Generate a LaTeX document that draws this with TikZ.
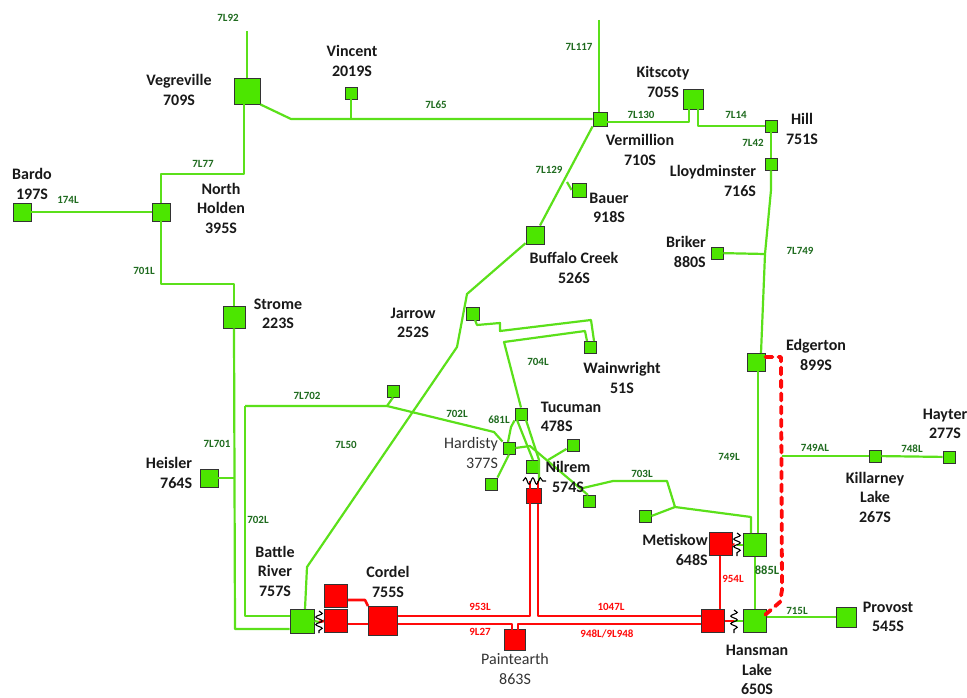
\documentclass[tikz,border=0pt]{standalone}
\usepackage{fontspec}
\setmainfont{Carlito}
\usetikzlibrary{arrows.meta,calc,positioning,decorations.pathmorphing}
\definecolor{linegreen}{HTML}{5BE01A}
\definecolor{boxgreen}{HTML}{4CE600}
\definecolor{labelgreen}{HTML}{1F6B1F}
\definecolor{linered}{HTML}{FF0A0A}
\begin{document}
\begin{tikzpicture}[
  x=1pt, y=-1pt,
  busg/.style={draw=black!80, fill=boxgreen, line width=0.9pt, minimum size=#1, inner sep=0pt},
  busr/.style={draw=black!80, fill=red, line width=0.9pt, minimum size=#1, inner sep=0pt},
  stn/.style={font=\fontsize{16}{19.5}\selectfont\bfseries, text=black!90, align=center, inner sep=0pt},
  stnr/.style={stn, align=right},
  plain/.style={font=\fontsize{16}{19.5}\selectfont, text=black!80, align=center, inner sep=0pt},
  gid/.style={font=\fontsize{11}{11}\selectfont\bfseries, text=labelgreen, inner sep=0pt},
  rid/.style={font=\fontsize{11}{11}\selectfont\bfseries, text=linered, inner sep=0pt},
  gln/.style={draw=linegreen, line width=2.2pt, line join=round},
  rln/.style={draw=linered, line width=2.6pt, line join=round},
  wig/.style={draw=black, line width=1.1pt, decorate, decoration={snake, amplitude=3.2pt, segment length=7.5pt}},
]
\useasboundingbox (0,0) rectangle (967,698);

%% === BUSES ===
\node[busg=26pt] (veg)  at (247,91)  {};
\node[busg=12pt] (vin)  at (351,93)  {};
\node[busg=18pt] (bar)  at (22,212)  {};
\node[busg=18pt] (nho)  at (161,212) {};
\node[busg=22pt] (str)  at (234,317) {};
\node[busg=18pt] (hei)  at (209,478) {};
\node[busg=24pt] (bat)  at (302,621) {};
\node[busg=20pt] (kit)  at (693,99)  {};
\node[busg=14pt] (ver)  at (600,119) {};
\node[busg=12pt] (hil)  at (771,126) {};
\node[busg=12pt] (llo)  at (771,164) {};
\node[busg=14pt] (bau)  at (579,190) {};
\node[busg=18pt] (buf)  at (535,235) {};
\node[busg=12pt] (bri)  at (717,253) {};
\node[busg=13pt] (jar)  at (473,314) {};
\node[busg=12pt] (wai)  at (590,347) {};
\node[busg=18pt] (edg)  at (756,362) {};
\node[busg=12pt] (tap)  at (393,391) {};
\node[busg=12pt] (tuc)  at (521,414) {};
\node[busg=12pt] (har)  at (509,448) {};
\node[busg=12pt] (hsw)  at (491,484) {};
\node[busg=12pt] (hne)  at (573,445) {};
\node[busg=13pt] (nil)  at (533,467) {};
\node[busg=12pt] (nse)  at (589,501) {};
\node[busg=12pt] (met)  at (645,516) {};
\node[busg=12pt] (kil)  at (875,456) {};
\node[busg=12pt] (hay)  at (949,457) {};
\node[busg=23pt] (mtg)  at (755,545) {};
\node[busg=23pt] (han)  at (755,621) {};
\node[busg=20pt] (pro)  at (846,617) {};

\node[busr=23pt] (crt)  at (336,596) {};
\node[busr=23pt] (crb)  at (336,621) {};
\node[busr=29pt] (cor)  at (383,621) {};
\node[busr=21pt] (pai)  at (515,640) {};
\node[busr=15pt] (nir)  at (534,496) {};
\node[busr=23pt] (mtr)  at (721,544) {};
\node[busr=23pt] (hrd)  at (713,621) {};

% free ends and transformer ends
\coordinate (top92)  at (247,31);
\coordinate (top117) at (599,20);
\coordinate (eab)    at (782,456);
\coordinate (wb1)    at (319,611);
\coordinate (wb2)    at (319,633);
\coordinate (wm1)    at (737,533);
\coordinate (wm2)    at (737,556);
\coordinate (wh1)    at (734,610);
\coordinate (wh2)    at (734,633);
\coordinate (wn1)    at (523,481);
\coordinate (wn2)    at (546,481);

%% === 138 kV (green) ===
\draw[gln] (top92) -- (top92 |- veg.north);
\draw[gln] (veg.south east) -- (291,119) -- (ver.west);
\draw[gln] (vin) -- (351,119);
\draw[gln] (bar) -- (nho);
\draw[gln] ([xshift=-3pt]veg.south) |- (161,174) -- (nho.north);
\draw[gln] (nho.south) |- (234,284) -- (str.north);
\draw[gln] (str.south) -- (235,629) -- ([yshift=-8pt]bat.west);
\draw[gln] (hei) -- (235,478);
\draw[gln] (245,406) -- (245,616) -- ([yshift=5pt]bat.west);
\draw[gln] (245,406) -- (387,406) -- (494,432) -- (har.north west);
\draw[gln] (tap.south) -- (387,406);
\draw[gln] (buf) -- (467,294) -- (457,347) -- (307,567) -- (305,609);
\draw[gln] (ver.south west) -- (buf);
\draw[gln] (bau.west) -- (567,182);
\draw[gln] (top117) -- (top117 |- ver.north);
\draw[gln] ([yshift=-3pt]ver.east) -- (689,122) -- (689,109);
\draw[gln] (698,109) -- (698,126) -- (hil.west);
\draw[gln] (hil) -- (llo);
\draw[gln] (llo.south) -- (771,190) -- (765,254) -- (761,353);
\draw[gln] (bri) -- (765,254);
\draw[gln] (758,371) -- (758,533);
\draw[gln] (475,320) -- (477,325) -- (500,323) -- (500,331) -- (591,320) -- (594,341);
\draw[gln] (587,341) -- (585,331) -- (504,342) -- (tuc.north);
\draw[gln] (tuc.south west) -- (511,427) -- (508,442);
\draw[gln] (517,420) -- (533,460);
\draw[gln] (526,420) -- (539,460) -- (539,481);
\draw[gln] (har.east) -- (530,446) -- (588,495);
\draw[gln] (hne) -- (548,460);
\draw[gln] (har.south) -- (hsw.north east);
\draw[gln] (583,488) -- (613,481) -- (667,481) -- (675,507) -- (met.east);
\draw[gln] (675,507) -- (751,517) -- (751,533);
\draw[gln] (mtg.south) -- (han.north);
\draw[gln] (han.east |- pro) -- (pro);
\draw[gln] (eab) -- (kil);
\draw[gln] (kil) -- (hay);
\draw[gln] (bat.east) -- (319,622);
\draw[gln] (mtg.west) -- (737,545);
\draw[gln] (han.west) -- (734,621);

%% === 240 kV (red) ===
\draw[rln] (crb.east |- 0,624) -- (cor.west |- 0,624);
\draw[rln] (crt.east |- 0,600) -- (365,600) -- (cor.north west);
\draw[rln] (cor.east |- 0,616) -- (530,616) -- (530,503);
\draw[rln] (nir.south -| 538,0) -- (538,616) -- (hrd.west |- 0,616);
\draw[rln] (cor.east |- 0,624) -- (512,624) -- (512,630);
\draw[rln] (518,630) -- (518,624) -- (hrd.west |- 0,624);
\draw[rln] (mtr.south -| 720,0) -- (hrd.north -| 720,0);
\draw[rln] (319,622) -- (crb.west);
\draw[rln] (734,545) -- (mtr.east);
\draw[rln] (734,621) -- (hrd.east);
\draw[rln] (530,481) -- (530,488.5);
\draw[rln] (538,481) -- (538,488.5);
\draw[rln, line width=3.8pt, dash pattern=on 7pt off 6pt, line cap=round]
  ([yshift=5pt]edg.east) -- (781,357) -- (782,590) -- (780,602) -- (765,615);

% transformers
\draw[wig] (wb1) -- (wb2);
\draw[wig] (wm1) -- (wm2);
\draw[wig] (wh1) -- (wh2);
\draw[wig] (wn1) -- (wn2);

%% === STATION NAMES ===
\node[stn] (nvin) at (352,61)  {Vincent\\2019S};
\node[stn] (nveg) at (179,90)  {Vegreville\\709S};
\node[stn] (nkit) at (663,82)  {Kitscoty\\705S};
\node[stn] (nhil) at (802,129) {Hill\\751S};
\node[stn] (nver) at (640,150) {Vermillion\\710S};
\node[stnr] (nllo) at (713,181) {Lloydminster\\716S};
\node[stn] (nbar) at (32,184)  {Bardo\\197S};
\node[stn] (nnho) at (221,208) {North\\Holden\\395S};
\node[stn] (nbau) at (609,208) {Bauer\\918S};
\node[stn] (nbuf) at (574,268) {Buffalo Creek\\526S};
\node[stnr] (nbri) at (686,252) {Briker\\880S};
\node[stn] (nstr) at (278,314) {Strome\\223S};
\node[stn] (njar) at (413,323) {Jarrow\\252S};
\node[stn] (nwai) at (622,378) {Wainwright\\51S};
\node[stn] (nedg) at (816,355) {Edgerton\\899S};
\node[stn] (nhay) at (945,424) {Hayter\\277S};
\node[stn] (nkil) at (875,497) {Killarney\\Lake\\267S};
\node[stn, align=left] (ntuc) at (571,417) {Tucuman\\478S};
\node[plain, align=right] (nhar) at (471,453) {Hardisty\\377S};
\node[stn] (nnil) at (568,477) {Nilrem\\574S};
\node[stnr] (nhei) at (169,473) {Heisler\\764S};
\node[stn] (nbat) at (275,571) {Battle\\River\\757S};
\node[stn] (ncor) at (388,582) {Cordel\\755S};
\node[plain] (npai) at (515,669) {Paintearth\\863S};
\node[stnr] (nmet) at (675,550) {Metiskow\\648S};
\node[stn] (nhan) at (757,670) {Hansman\\Lake\\650S};
\node[stn] (npro) at (888,617) {Provost\\545S};

%% === LINE IDS ===
\node[gid] (l92)   at (228,18)  {7L92};
\node[gid] (l117)  at (579,47)  {7L117};
\node[gid] (l65)   at (436,105) {7L65};
\node[gid] (l130)  at (641,115) {7L130};
\node[gid] (l14)   at (736,115) {7L14};
\node[gid] (l42)   at (753,143) {7L42};
\node[gid] (l129)  at (549,170) {7L129};
\node[gid] (l77)   at (203,164) {7L77};
\node[gid] (l174)  at (68,200)  {174L};
\node[gid] (l701)  at (144,271) {701L};
\node[gid] (l749a) at (800,251) {7L749};
\node[gid] (l702a) at (307,396) {7L702};
\node[gid] (l702b) at (457,414) {702L};
\node[gid] (l681)  at (499,420) {681L};
\node[gid] (l704)  at (538,362) {704L};
\node[gid] (l703)  at (642,474) {703L};
\node[gid] (l7701) at (217,444) {7L701};
\node[gid] (l702c) at (258,520) {702L};
\node[gid] (l50)   at (346,445) {7L50};
\node[gid] (l749)  at (729,457) {749L};
\node[gid] (l749b) at (815,448) {749AL};
\node[gid] (l748)  at (912,449) {748L};
\node[gid, font=\fontsize{12.5}{13}\selectfont\bfseries] (l885) at (767,570) {885L};
\node[gid] (l715)  at (797,611) {715L};
\node[rid] (l953)  at (480,607) {953L};
\node[rid] (l927)  at (480,632) {9L27};
\node[rid] (l1047) at (611,607) {1047L};
\node[rid] (l948)  at (607,634) {948L/9L948};
\node[rid] (l954)  at (733,579) {954L};

\end{tikzpicture}
\end{document}
